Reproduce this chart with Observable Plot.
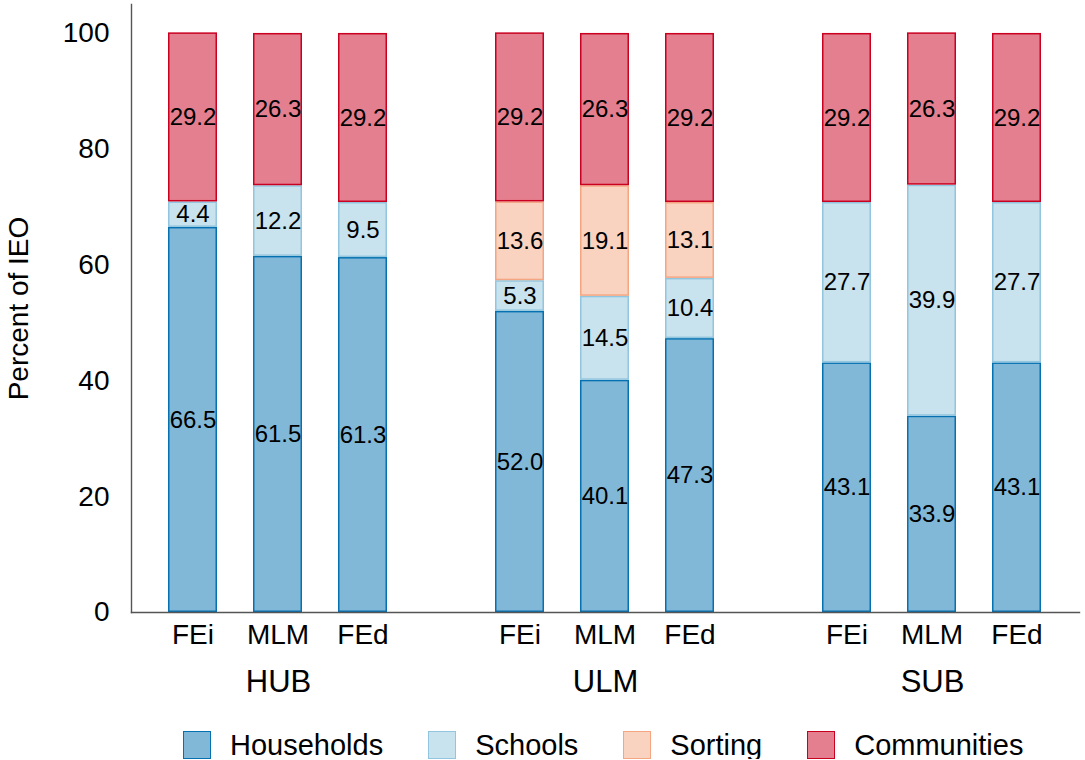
<!DOCTYPE html>
<html>
<head>
<meta charset="utf-8">
<script src="https://cdn.jsdelivr.net/npm/d3@7"></script>
<script src="https://cdn.jsdelivr.net/npm/@observablehq/plot@0.6"></script>
<style>
  body { margin: 0; background: #fff; font-family: "Liberation Sans", Arial, sans-serif; }
  #chart svg { display: block; }
  #legend { display: flex; justify-content: flex-start; align-items: center; height: 28px; padding-top: 11px; padding-left: 183px; }
  .item { display: flex; align-items: center; margin-right: 45px; font-size: 29px; line-height: 28px; color: #000; }
  .sw { width: 28px; height: 28px; margin-right: 19px; box-sizing: border-box; }
</style>
</head>
<body>
<div id="chart"></div>
<div id="legend"></div>
<script>
const groups = ["HUB", "ULM", "SUB"];
const models = ["FEi", "MLM", "FEd"];
const components = ["Households", "Schools", "Sorting", "Communities"];
// values in order HUB(FEi, MLM, FEd), ULM(...), SUB(...)
const households  = [66.5, 61.5, 61.3, 52.0, 40.1, 47.3, 43.1, 33.9, 43.1];
const schools     = [4.4, 12.2, 9.5, 5.3, 14.5, 10.4, 27.7, 39.9, 27.7];
const sorting     = [null, null, null, 13.6, 19.1, 13.1, null, null, null];
const communities = [29.2, 26.3, 29.2, 29.2, 26.3, 29.2, 29.2, 26.3, 29.2];
const yTicks = [0, 20, 40, 60, 80, 100];
const fills   = ["#82b8d7", "#c8e2ee", "#f9d2c0", "#e47f8f"];
const strokes = ["#0571b0", "#92c5de", "#f4a582", "#ca0020"];

const series = [households, schools, sorting, communities];
const rows = [];
groups.forEach((g, gi) => {
  models.forEach((m, mi) => {
    const i = gi * 3 + mi;
    components.forEach((c, ci) => {
      const v = series[ci][i];
      if (v != null) rows.push({group: g, model: m, component: c, value: v});
    });
  });
});

const font = '"Liberation Sans", Arial, sans-serif';

const plot = Plot.plot({
  width: 1085,
  height: 720,
  marginLeft: 125,
  marginRight: 0,
  marginTop: 4,
  marginBottom: 108,
  style: {fontSize: "28px", fontFamily: font, color: "#000", background: "#fff"},
  fx: {domain: groups, paddingInner: 0.1, paddingOuter: 0.015, label: null},
  x: {domain: models, padding: 0.42, label: null},
  y: {domain: [0, 105], label: null},
  color: {domain: components, range: fills},
  marks: [
    Plot.barY(rows, Plot.stackY({
      fx: "group", x: "model", y: "value", z: "component", order: components,
      fill: "component",
      stroke: d => strokes[components.indexOf(d.component)],
      strokeWidth: 1.5, inset: 0.75
    })),
    Plot.text(rows, Plot.stackY({
      fx: "group", x: "model", y: "value", z: "component", order: components,
      text: d => d.value.toFixed(1), fontSize: 24, fill: "#000"
    })),
    Plot.axisY({ticks: yTicks, tickSize: 0, tickPadding: 22, label: null, fontSize: 28}),
    Plot.axisX({tickSize: 0, tickPadding: 12, label: null, fontSize: 28}),
    Plot.axisFx({anchor: "bottom", tickSize: 0, tickPadding: 57, label: null, fontSize: 31}),
    Plot.frame({anchor: "left", facet: "super", stroke: "#555", strokeWidth: 1.4}),
    Plot.frame({anchor: "bottom", facet: "super", stroke: "#555", strokeWidth: 1.4}),
    Plot.text(["Percent of IEO"], {frameAnchor: "left", dx: -112, rotate: -90, textAnchor: "middle", fontSize: 28, facet: "super", text: d => d})
  ]
});
document.getElementById("chart").appendChild(plot);

const legend = document.getElementById("legend");
components.forEach((c, i) => {
  const item = document.createElement("div");
  item.className = "item";
  const sw = document.createElement("div");
  sw.className = "sw";
  sw.style.background = fills[i];
  sw.style.border = `1.5px solid ${strokes[i]}`;
  const t = document.createElement("span");
  t.textContent = c;
  item.appendChild(sw);
  item.appendChild(t);
  legend.appendChild(item);
});
</script>
</body>
</html>
